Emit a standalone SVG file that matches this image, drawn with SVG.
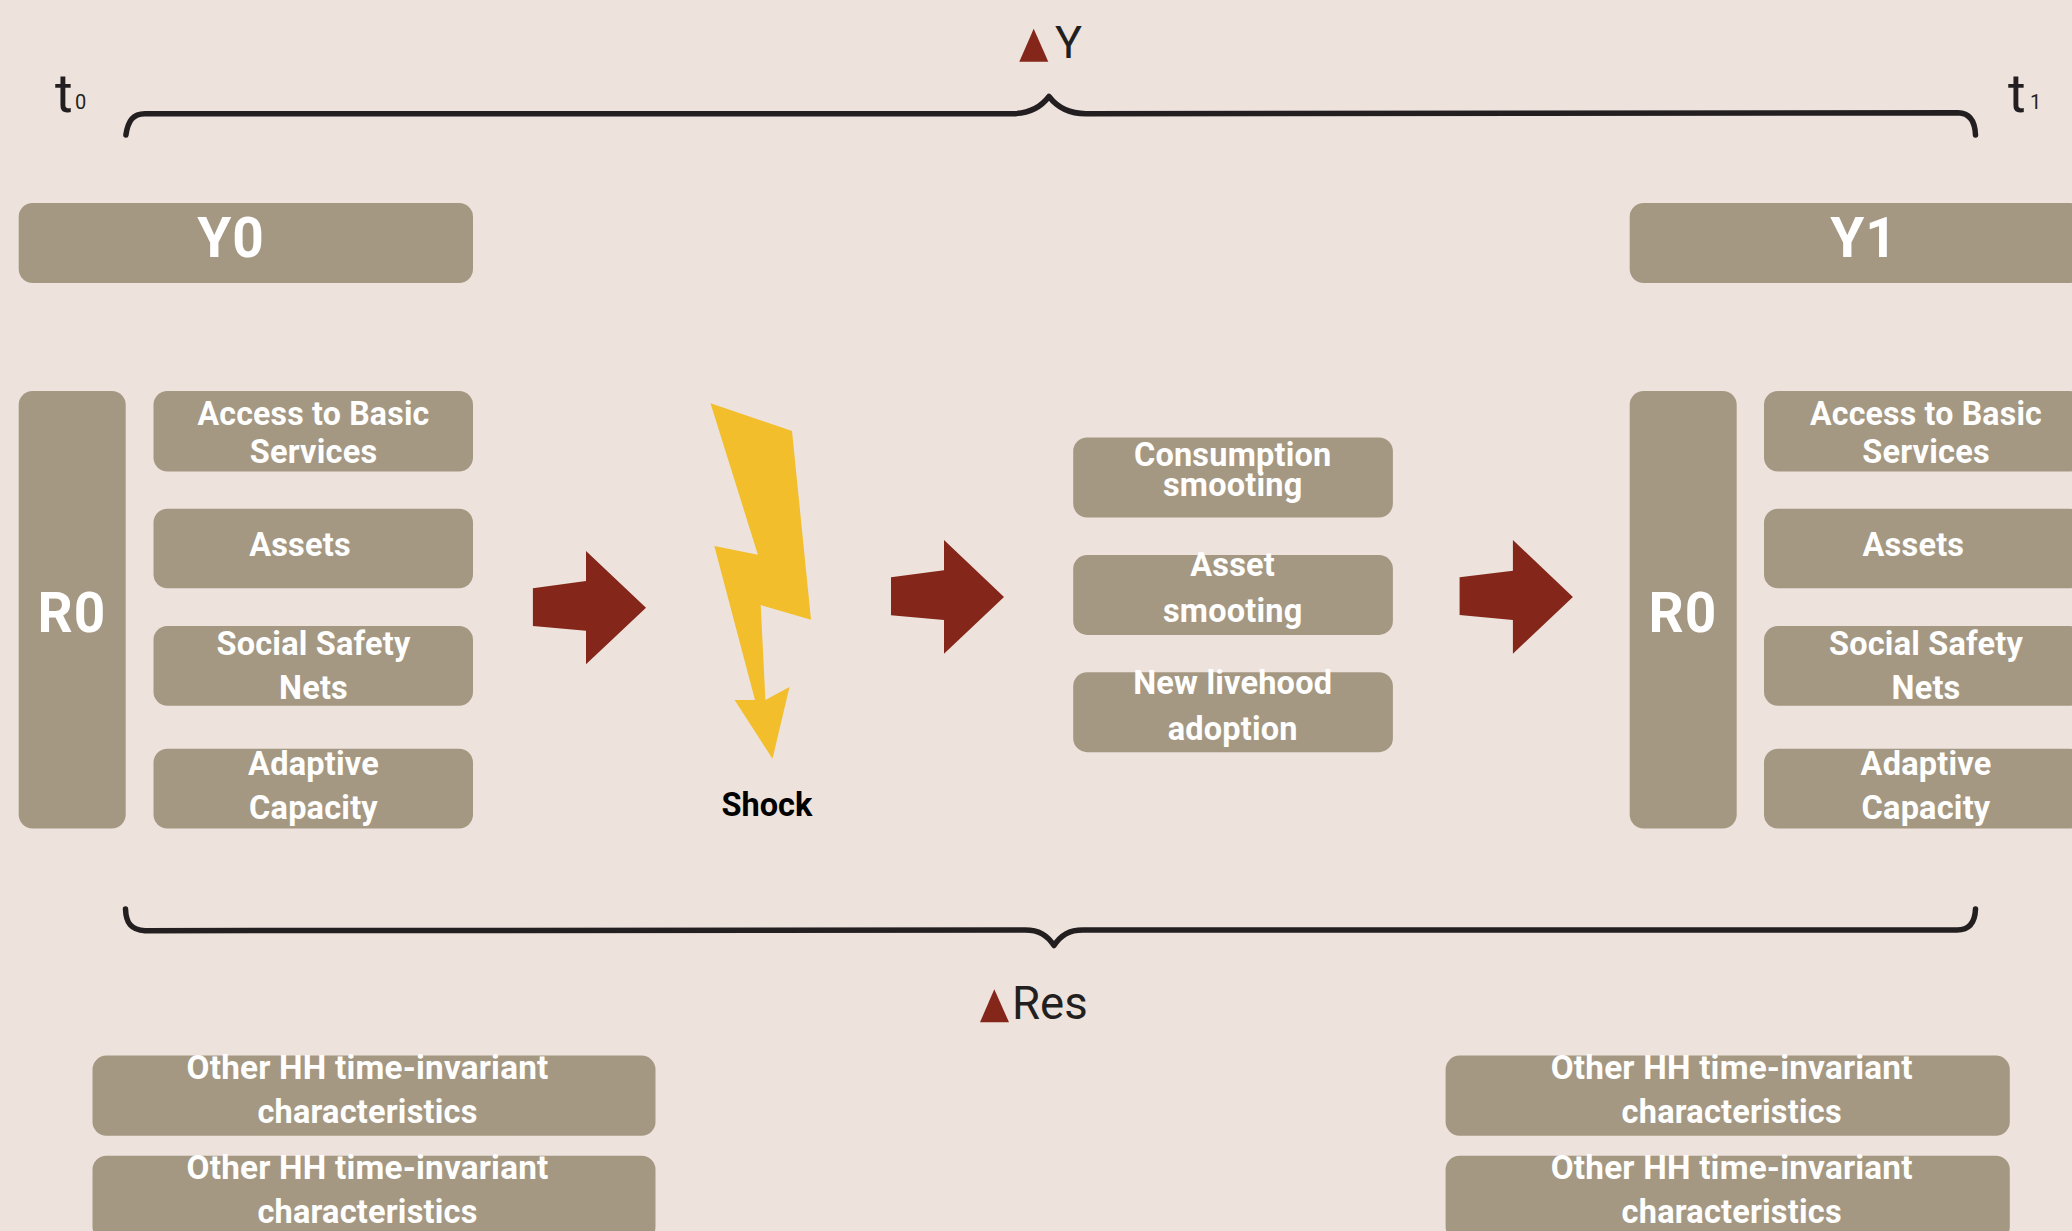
<svg xmlns="http://www.w3.org/2000/svg" width="2072" height="1231" viewBox="0 0 2072 1231">
<style>
text{font-family:"Roboto","Liberation Sans",sans-serif}
.b{fill:#a59882}
.l{fill:#fff;font-weight:700;font-size:32.5px;letter-spacing:.2px;text-anchor:middle}
.h{fill:#fff;font-weight:700;font-size:55px;letter-spacing:1px;text-anchor:middle}
.d{fill:#231f20;font-weight:400}
.a{fill:#85261a}
.br{fill:none;stroke:#231f20;stroke-width:5.5;stroke-linecap:round;stroke-linejoin:round}
</style>
<rect width="2072" height="1231" fill="#ede2dc"/>
<g id="connectors">
<path class="br" d="M125.9 135C128 121 133 113.7 145 113.7L1012 113.7C1030 113.7 1041 107 1049 96.5C1057 107 1068 113.7 1086 113.7L1958 112.7C1970 113 1975 121 1975.5 135"/>
<path class="br" d="M125.5 909C126 923 131 930 145 930.7L1025 930C1039 930 1047 935 1054 945.5C1061 935 1069 930 1083 930L1957 930C1969 930 1975 923 1975.5 909"/>
<polygon class="a" points="532.9,588.3 586,581 586,551 646,607.7 586,664.3 586,630.7 532.9,626"/>
<polygon class="a" points="891,577.3 944,570.3 944,540 1004,597 944,653.7 944,620 891,615.3"/>
<polygon class="a" points="1459.6,577.3 1512.9,570.7 1512.9,540 1572.9,597 1512.9,653.7 1512.9,620 1459.6,615"/>
</g>
<g id="t0"><text class="d" x="55" y="111.7" font-size="54">t</text><text class="d" x="75" y="109" font-size="20">0</text></g>
<g id="t1"><text class="d" x="2008" y="111.7" font-size="54">t</text><text class="d" x="2030" y="109" font-size="20">1</text></g>
<g id="delta-y"><polygon class="a" points="1033.7,28.7 1048.3,61.7 1019.3,61.7"/><text class="d" x="1055" y="57.7" font-size="45">Y</text></g>
<g id="delta-res"><polygon class="a" points="994.3,989.3 1009,1022.3 980,1022.3"/><text class="d" x="1012" y="1019.3" font-size="45.5">Res</text></g>
<g id="y0"><rect class="b" x="18.7" y="203" width="454.3" height="80" rx="14"/><text class="h" x="231" y="257.2">Y0</text></g>
<g id="r0-left"><rect class="b" x="18.7" y="391" width="107" height="437.5" rx="14"/><text class="h" x="72" y="631.7">R0</text></g>
<g id="l-access"><rect class="b" x="153.5" y="391" width="319.5" height="80.5" rx="14"/><text class="l" x="313.5" y="424.7" textLength="232" lengthAdjust="spacingAndGlyphs">Access to Basic</text><text class="l" x="313.5" y="462.7">Services</text></g>
<g id="l-assets"><rect class="b" x="153.5" y="508.7" width="319.5" height="79.6" rx="14"/><text class="l" x="300" y="556">Assets</text></g>
<g id="l-social"><rect class="b" x="153.5" y="626" width="319.5" height="79.8" rx="14"/><text class="l" x="313.5" y="655">Social Safety</text><text class="l" x="313.5" y="699">Nets</text></g>
<g id="l-adaptive"><rect class="b" x="153.5" y="748.7" width="319.5" height="79.8" rx="14"/><text class="l" x="313.5" y="775">Adaptive</text><text class="l" x="313.5" y="818.5">Capacity</text></g>
<g id="shock"><polygon points="710.5,403.3 792,431 811,619.7 760.7,605 765.4,700 789.5,687 772.5,758.7 734.6,700 755,700 714.3,546 757.9,554.7" fill="#f2be2c"/><text x="767" y="815.5" font-size="32.5" font-weight="700" fill="#000" text-anchor="middle">Shock</text></g>
<g id="m-consumption"><rect class="b" x="1073.2" y="437.5" width="319.7" height="80" rx="14"/><text class="l" x="1232.7" y="466">Consumption</text><text class="l" x="1232.7" y="496">smooting</text></g>
<g id="m-asset"><rect class="b" x="1073.2" y="554.9" width="319.7" height="80" rx="14"/><text class="l" x="1232.7" y="576">Asset</text><text class="l" x="1232.7" y="622">smooting</text></g>
<g id="m-new"><rect class="b" x="1073.2" y="672.2" width="319.7" height="80" rx="14"/><text class="l" x="1232.7" y="694">New livehood</text><text class="l" x="1232.7" y="740">adoption</text></g>
<g id="y1"><rect class="b" x="1629.7" y="203" width="454.3" height="80" rx="14"/><text class="h" x="1864" y="257.2">Y1</text></g>
<g id="r0-right"><rect class="b" x="1629.7" y="391" width="107" height="437.5" rx="14"/><text class="h" x="1683" y="631.7">R0</text></g>
<g id="r-access"><rect class="b" x="1764" y="391" width="319.5" height="80.5" rx="14"/><text class="l" x="1926" y="424.7" textLength="232" lengthAdjust="spacingAndGlyphs">Access to Basic</text><text class="l" x="1926" y="462.7">Services</text></g>
<g id="r-assets"><rect class="b" x="1764" y="508.7" width="319.5" height="79.6" rx="14"/><text class="l" x="1913.4" y="556">Assets</text></g>
<g id="r-social"><rect class="b" x="1764" y="626" width="319.5" height="79.8" rx="14"/><text class="l" x="1926" y="655">Social Safety</text><text class="l" x="1926" y="699">Nets</text></g>
<g id="r-adaptive"><rect class="b" x="1764" y="748.7" width="319.5" height="79.8" rx="14"/><text class="l" x="1926" y="775">Adaptive</text><text class="l" x="1926" y="818.5">Capacity</text></g>
<g id="hh-1"><rect class="b" x="92.5" y="1055.6" width="563" height="80.2" rx="14"/><text class="l" x="367.5" y="1079" textLength="362" lengthAdjust="spacingAndGlyphs">Other HH time-invariant</text><text class="l" x="367.5" y="1123">characteristics</text></g>
<g id="hh-2"><rect class="b" x="92.5" y="1155.7" width="563" height="85" rx="14"/><text class="l" x="367.5" y="1178.5" textLength="362" lengthAdjust="spacingAndGlyphs">Other HH time-invariant</text><text class="l" x="367.5" y="1222.5">characteristics</text></g>
<g id="hh-3"><rect class="b" x="1445.6" y="1055.6" width="564.2" height="80.2" rx="14"/><text class="l" x="1731.7" y="1079" textLength="362" lengthAdjust="spacingAndGlyphs">Other HH time-invariant</text><text class="l" x="1731.7" y="1123">characteristics</text></g>
<g id="hh-4"><rect class="b" x="1445.6" y="1155.7" width="564.2" height="85" rx="14"/><text class="l" x="1731.7" y="1178.5" textLength="362" lengthAdjust="spacingAndGlyphs">Other HH time-invariant</text><text class="l" x="1731.7" y="1222.5">characteristics</text></g>
</svg>
